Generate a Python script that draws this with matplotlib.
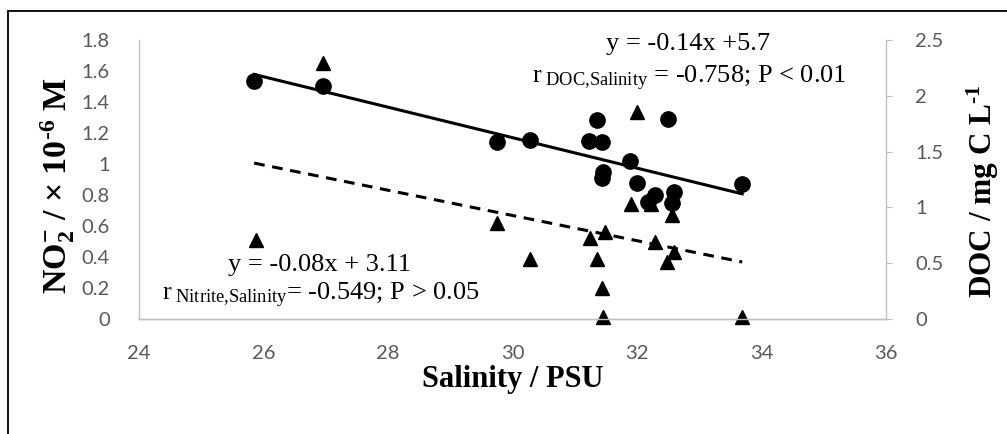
import matplotlib
matplotlib.use('Agg')
import matplotlib.pyplot as plt
from matplotlib.patches import Rectangle
import numpy as np

plt.rcParams['mathtext.fontset'] = 'custom'
plt.rcParams['mathtext.rm'] = 'Liberation Serif'
plt.rcParams['mathtext.it'] = 'Liberation Serif:italic'
plt.rcParams['mathtext.bf'] = 'Liberation Serif:bold'

# nitrite (left axis, triangles)
sal_no2 = [25.88, 26.96, 29.75, 30.28, 31.25, 31.36, 31.49, 31.44, 31.45,
           31.90, 32.00, 32.22, 32.29, 32.48, 32.56, 32.60, 33.69]
no2 = [0.51, 1.65, 0.62, 0.39, 0.52, 0.39, 0.56, 0.20, 0.01,
       0.74, 1.335, 0.74, 0.50, 0.37, 0.67, 0.43, 0.01]

# DOC (right axis, circles)
sal_doc = [25.85, 26.96, 29.75, 30.28, 31.23, 31.44, 31.35, 32.50, 31.89,
           31.45, 31.44, 32.00, 32.18, 32.29, 32.60, 32.56, 33.69]
doc = [2.13, 2.09, 1.59, 1.60, 1.595, 1.586, 1.78, 1.79, 1.415,
       1.32, 1.26, 1.22, 1.05, 1.11, 1.14, 1.04, 1.21]

# trend lines (slope, intercept) as drawn
no2_fit = (-0.0814, 3.11)
doc_fit = (-0.1365, 5.72)
fit_range = [25.85, 33.69]

xticks = [24, 26, 28, 30, 32, 34, 36]
no2_ticks = [0, 0.2, 0.4, 0.6, 0.8, 1, 1.2, 1.4, 1.6, 1.8]
doc_ticks = [0, 0.5, 1, 1.5, 2, 2.5]

W, H = 1007, 434
fig = plt.figure(figsize=(W/100, H/100), dpi=100)
ax1 = fig.add_axes([139/W, 1-319/H, (886-139)/W, (319-40)/H])
ax2 = ax1.twinx()

grey = '#bfbfbf'
tickc = '#595959'
tfont = dict(family='Lato', size=14.5)

ax1.plot(sal_no2, no2, '^', color='black', markersize=10, zorder=3, clip_on=False)
ax2.plot(sal_doc, doc, 'o', color='black', markersize=11, zorder=3, clip_on=False)

xs = np.array(fit_range)
ax1.plot(xs, no2_fit[0]*xs + no2_fit[1], color='black', lw=2.2,
         linestyle=(0, (3.5, 2.5)), zorder=4)
ax2.plot(xs, doc_fit[0]*xs + doc_fit[1], color='black', lw=2.2, zorder=4)

ax1.set_xlim(24, 36)
ax1.set_ylim(0, 1.8)
ax2.set_ylim(0, 2.5)
ax1.set_xticks(xticks)
ax1.set_xticklabels([str(v) for v in xticks], **tfont, color=tickc)
ax1.set_yticks(no2_ticks)
ax1.set_yticklabels(['%g' % v for v in no2_ticks], **tfont, color=tickc)
ax2.set_yticks(doc_ticks)
ax2.set_yticklabels(['%g' % v for v in doc_ticks], **tfont, color=tickc)

for a in (ax1, ax2):
    a.spines['top'].set_visible(False)
    for s in ('left', 'right', 'bottom'):
        a.spines[s].set_color(grey)
        a.spines[s].set_linewidth(1.0)
ax1.spines['right'].set_visible(False)
ax2.spines['left'].set_visible(False)
ax1.tick_params(axis='x', length=0, pad=19)
ax1.tick_params(axis='y', length=0, pad=21)
ax2.tick_params(axis='y', length=4, color=grey, pad=17)

ax1.set_xlabel('Salinity / PSU', family='Liberation Serif', weight='bold',
               size=22, labelpad=2)
fig.text(58/W, 1-186/H,
         r'NO$_\mathbf{2}^{\mathbf{-}}$ / × 10$^{\mathbf{\text{-}6}}$ M',
         family='Liberation Serif', weight='bold', size=24.5, rotation=90,
         ha='center', va='center')
fig.text(983/W, 1-191/H, r'DOC / mg C L$^{\mathbf{\text{-}1}}$',
         family='Liberation Serif', weight='bold', size=22.5, rotation=90,
         ha='center', va='center')

sfont = dict(family='Liberation Serif', size=19, ha='center', va='baseline')
fig.text(688/W, 1-50/H, 'y = -0.14x +5.7', **sfont)
fig.text(689/W, 1-83/H,
         r'r$_{\mathrm{\ DOC{,}Salinity}}$ = -0.758; P < 0.01', **sfont)
fig.text(320/W, 1-271/H, 'y = -0.08x + 3.11', **sfont)
fig.text(321/W, 1-300/H,
         r'r$_{\mathrm{\ Nitrite{,}Salinity}}$= -0.549; P > 0.05', **sfont)

# outer frame (runs off the right and bottom edges)
fig.patches.append(Rectangle((8/W, -0.2), 1.2, 1.2 - 11/H, transform=fig.transFigure,
                             fill=False, edgecolor='black', lw=1.3))

fig.savefig('out.png', dpi=100)
